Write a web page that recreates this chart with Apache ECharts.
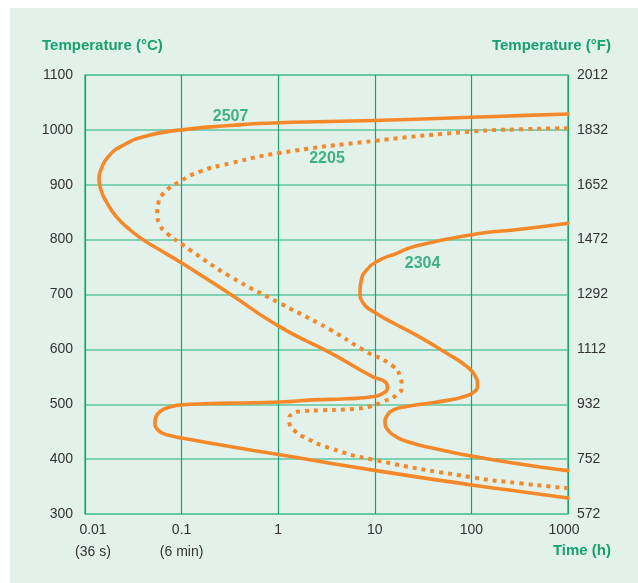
<!DOCTYPE html>
<html>
<head>
<meta charset="utf-8">
<script src="https://cdn.jsdelivr.net/npm/echarts@6/dist/echarts.min.js"></script>
<style>
html,body{margin:0;padding:0;background:#ffffff;}
#panel{position:absolute;left:10px;top:8px;width:628px;height:575px;background:#e3f1eb;}
#chart{position:absolute;left:0;top:0;width:638px;height:583px;}
</style>
</head>
<body>
<div id="panel"></div>
<div id="chart"></div>
<script>
// Time (h) on a log axis, temperature in °C
const timeTickLabels = ['0.01\n(36 s)', '0.1\n(6 min)', '1', '10', '100', '1000'];

// Grade 2507 (solid)
const s2507 = [
  [1000, 1029], [318, 1026], [100, 1023], [10, 1017], [1, 1013], [0.317, 1008], [0.1, 1000],
  [0.0435, 989], [0.0249, 972], [0.0174, 951], [0.0146, 927], [0.01396, 912],
  [0.01466, 890], [0.0169, 867], [0.0209, 843], [0.0279, 821], [0.0398, 800],
  [0.0641, 778], [0.1033, 756], [0.317, 701], [1.044, 641], [3.435, 594], [9.57, 550],
  [12.8, 541], [13.5, 531], [12.2, 520], [9.65, 514], [5.1, 510], [2.31, 508],
  [1.044, 504], [0.317, 502], [0.1033, 499], [0.0759, 495], [0.0612, 488],
  [0.0543, 477], [0.0530, 466], [0.0556, 455], [0.0642, 447], [0.0796, 442],
  [0.1034, 438], [0.317, 423], [1.044, 408], [9.57, 380], [100, 353], [318, 341],
  [1000, 329]
];
// Grade 2205 (dotted)
const s2205 = [
  [1000, 1003], [318, 1001], [101, 997], [10.05, 980], [1.044, 958], [0.317, 939],
  [0.155, 924], [0.0962, 906], [0.0647, 884], [0.0574, 866], [0.0560, 848],
  [0.0597, 827], [0.0701, 812], [0.1041, 790], [0.1222, 781], [0.317, 733],
  [1.044, 684], [3.435, 636], [7.60, 599], [15.54, 569], [18.24, 550], [18.99, 532],
  [16.86, 517], [12.25, 505], [8.92, 496], [5.54, 491], [2.709, 489], [1.682, 487],
  [1.390, 482], [1.294, 473], [1.325, 462], [1.492, 451], [1.806, 441], [3.435, 420],
  [9.57, 399], [100, 367], [318, 356], [1000, 347]
];
// Grade 2304 (solid)
const s2304 = [
  [1000, 830], [318, 819], [100.7, 809], [25.06, 787], [16.86, 775], [11.32, 763],
  [8.245, 745], [7.195, 723], [7.025, 705], [7.60, 684], [9.65, 669], [15.54, 648],
  [25.04, 629], [55.5, 593], [87.9, 570], [109, 552], [115.6, 535], [109, 524],
  [87.9, 515], [60.0, 508], [33.1, 501], [21.4, 496], [15.8, 490], [13.38, 479],
  [12.75, 466], [13.70, 453], [16.19, 442], [21.4, 432], [47.3, 417], [104.6, 405],
  [318, 391], [1000, 379]
];
// Curve name labels
const curveLabels = [
  { name: '2507', value: [0.321, 1025] },
  { name: '2205', value: [3.2, 947] },
  { name: '2304', value: [31.2, 756] }
];

const GREEN = '#17a070';
const ORANGE = '#f5892a';
const FONT = '"Liberation Sans", Arial, sans-serif';

const chart = echarts.init(document.getElementById('chart'), null, { renderer: 'canvas' });

const lineSeries = (data, dotted) => ({
  type: 'line',
  data: data,
  smooth: 0.55,
  showSymbol: false,
  symbol: 'none',
  yAxisIndex: 0,
  lineStyle: {
    color: ORANGE,
    width: dotted ? 4 : 3.6,
    type: dotted ? [4, 5] : 'solid',
    cap: dotted ? 'butt' : 'round',
    join: 'round'
  },
  z: 3
});

chart.setOption({
  backgroundColor: 'transparent',
  animation: false,
  grid: {
    left: 85, right: 70, top: 75, bottom: 69,
    show: true, borderColor: '#1aa773', borderWidth: 1.2, backgroundColor: 'transparent'
  },
  xAxis: {
    type: 'log', logBase: 10, min: 0.01, max: 1000,
    axisLine: { show: false },
    axisTick: { show: false },
    splitLine: { show: true, lineStyle: { color: '#1aa371', width: 1.2 } },
    minorTick: { show: false },
    axisLabel: {
      color: '#333333', fontFamily: FONT, fontSize: 14, margin: 5, lineHeight: 22,
      formatter: function (v) {
        const k = Math.round(Math.log10(v)) + 2;
        const s = timeTickLabels[k];
        if (s === undefined) return '';
        const key = k === 0 ? 'first' : (k === timeTickLabels.length - 1 ? 'last' : 'mid');
        return s.split('\n').map(function (p) { return '{' + key + '|' + p + '}'; }).join('\n');
      },
      rich: {
        first: { fontFamily: FONT, fontSize: 14, color: '#333333', lineHeight: 22, padding: [0, 0, 0, 16] },
        mid: { fontFamily: FONT, fontSize: 14, color: '#333333', lineHeight: 22 },
        last: { fontFamily: FONT, fontSize: 14, color: '#333333', lineHeight: 22, padding: [0, 8, 0, 0] }
      }
    }
  },
  yAxis: [
    {
      type: 'value', min: 300, max: 1100, interval: 100,
      axisLine: { show: false }, axisTick: { show: false },
      splitLine: { show: true, lineStyle: { color: '#5ec6a0', width: 1.5 } },
      axisLabel: {
        color: '#333333', fontFamily: FONT, fontSize: 14, margin: 12,
        formatter: function (v) { return String(v); }
      }
    },
    {
      type: 'value', min: 300, max: 1100, interval: 100, position: 'right',
      axisLine: { show: false }, axisTick: { show: false },
      splitLine: { show: false },
      axisLabel: {
        color: '#333333', fontFamily: FONT, fontSize: 14, margin: 9,
        formatter: function (v) { return String(Math.round(v * 9 / 5 + 32)); }
      }
    }
  ],
  graphic: [
    { type: 'text', left: 42, top: 38, style: { text: 'Temperature (°C)', fill: GREEN, font: 'bold 15px ' + FONT } },
    { type: 'text', right: 27, top: 38, style: { text: 'Temperature (°F)', fill: GREEN, font: 'bold 15px ' + FONT } },
    { type: 'text', right: 27, top: 543, style: { text: 'Time (h)', fill: GREEN, font: 'bold 15px ' + FONT } }
  ],
  series: [
    lineSeries(s2507, false),
    lineSeries(s2205, true),
    lineSeries(s2304, false),
    {
      type: 'scatter',
      data: curveLabels,
      symbolSize: 0,
      silent: true,
      label: {
        show: true, position: 'inside', formatter: '{b}',
        color: GREEN, fontFamily: FONT, fontWeight: 'bold', fontSize: 16
      },
      z: 4
    }
  ]
});
</script>
</body>
</html>
